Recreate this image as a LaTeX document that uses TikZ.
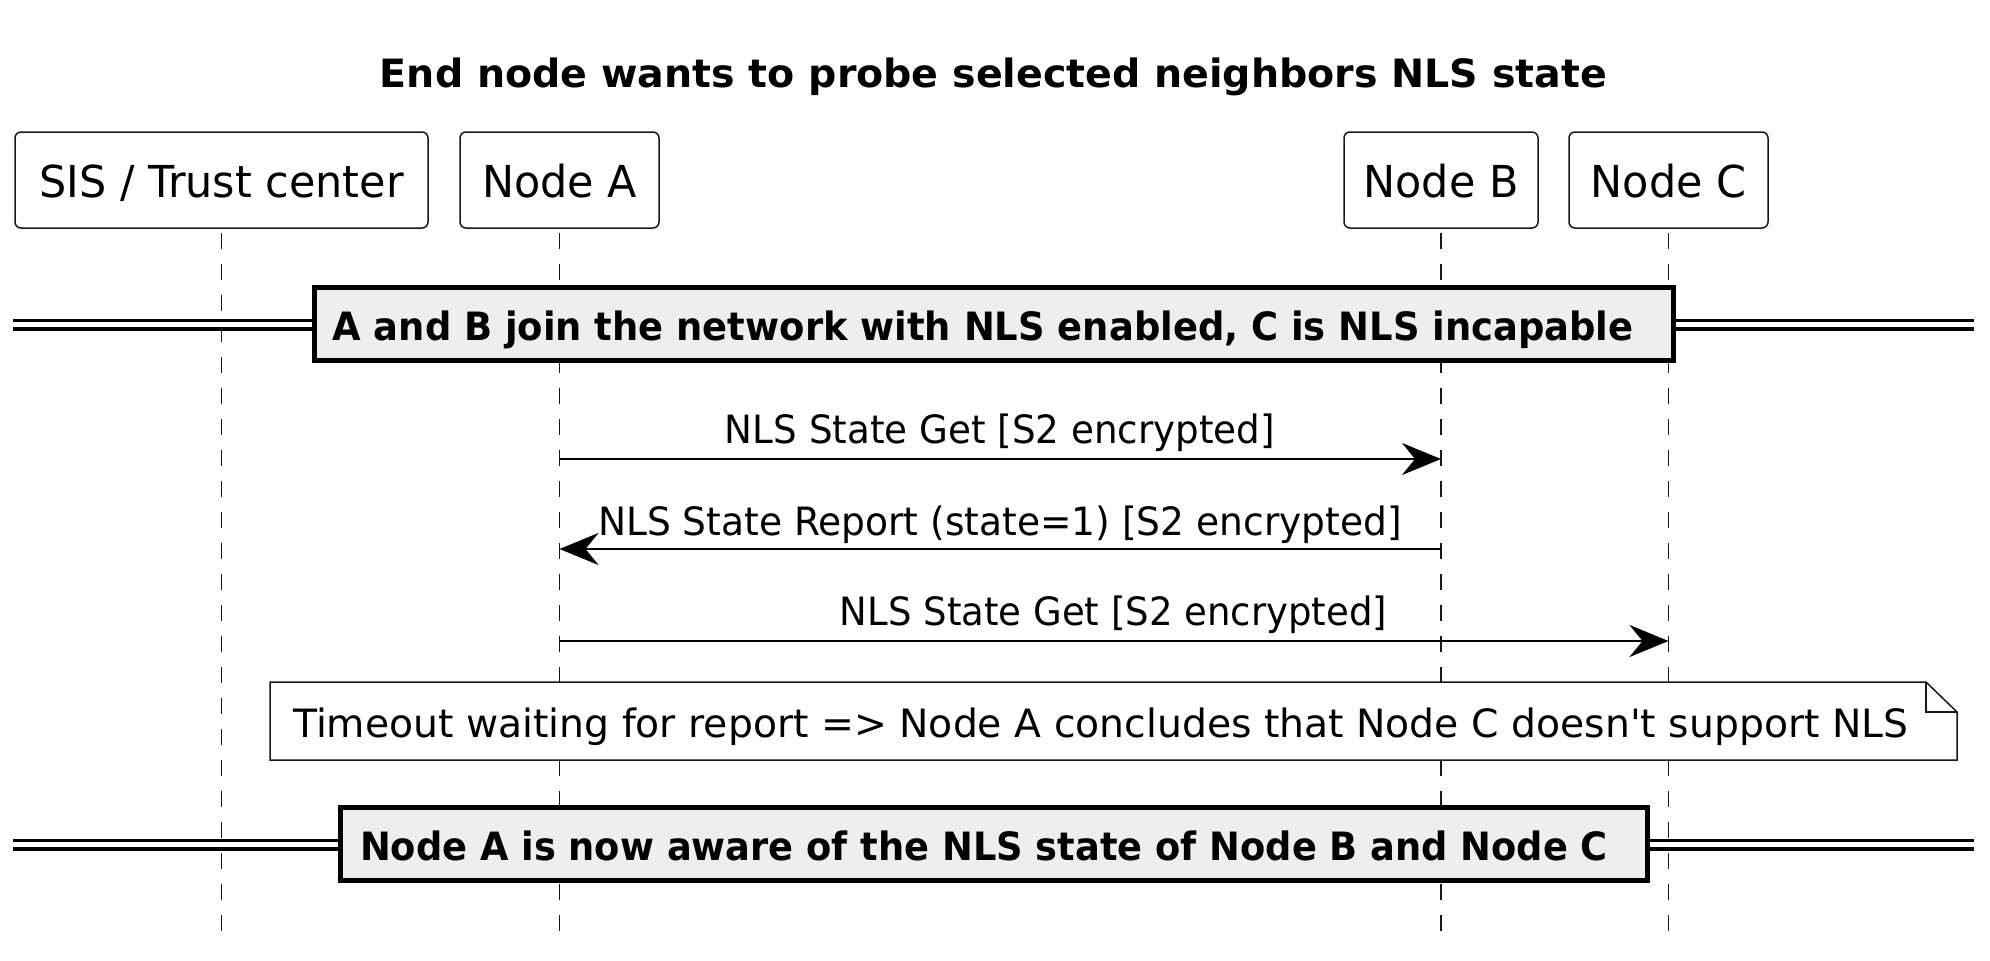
\documentclass[tikz,border=0pt]{standalone}
\usepackage{fontspec}
\usepackage{graphicx}
\setmainfont{DejaVu Sans}[Ligatures=TeXOff]
\newfontfamily\partfont{DejaVu Sans}[Ligatures=TeXOff,FakeStretch=0.975]
\usetikzlibrary{arrows.meta}
\definecolor{ink}{HTML}{181818}
\definecolor{divfill}{HTML}{EEEEEE}
% set a line of text to a given width, keeping its height
\newcommand{\fitto}[2]{\resizebox{#1}{\height}{#2}}

\begin{document}
\begin{tikzpicture}[x=1pt,y=-1pt,
  participant/.style={draw=ink, line width=1.5pt, fill=white, rounded corners=6pt,
    minimum height=96pt, inner sep=0pt, text height=34pt, text depth=0pt,
    font=\partfont\fontsize{44}{50}\selectfont},
  lifeline/.style={draw=ink, line width=1.5pt, dash pattern=on 16pt off 15pt},
  msg/.style={draw=black, line width=2.7pt, -{Stealth[length=39pt,width=32pt,inset=13pt]}},
  msglabel/.style={anchor=base, inner sep=0pt, font=\fontsize{39}{44}\selectfont},
  divider/.style={draw=black, line width=5pt, fill=divfill, inner sep=0pt,
    minimum height=73pt, text height=32pt, text depth=0pt,
    font=\bfseries\fontsize{39}{44}\selectfont},
  divline/.style={draw=black, line width=3.5pt, double=white, double distance=5pt},
  notebox/.style={draw=ink, line width=1.5pt, fill=white, line join=miter},
]
\useasboundingbox (0,0) rectangle (1990,961);

% title
\node[anchor=base, inner sep=0pt, font=\bfseries\fontsize{39}{44}\selectfont] (title)
  at (993.5,87) {\fitto{1227pt}{End node wants to probe selected neighbors NLS state}};

% participants
\node[participant, minimum width=413pt] (sis) at (221.5,180) {SIS / Trust center};
\node[participant, minimum width=199pt] (na) at (559.5,180) {Node A};
\node[participant, minimum width=194pt] (nb) at (1441,180) {Node B};
\node[participant, minimum width=199pt] (nc) at (1668.5,180) {Node C};

% lifelines
\coordinate (bottom) at (0,935);
\foreach \p in {sis,na,nb,nc}
  \draw[lifeline] ([yshift=-4pt]\p.south) -- (\p |- bottom);

% divider 1 (text sits left of centre, hence the trailing kern)
\coordinate (d1l) at (13,324.5);
\coordinate (d1r) at (1974,324.5);
\draw[divline] (d1l) -- (d1r);
\node[divider, minimum width=1359pt] (div1) at (994,324)
  {\fitto{1301pt}{A and B join the network with NLS enabled, C is NLS incapable}\kern22pt};

% messages
\coordinate (m1) at (0,459);
\coordinate (m2) at (0,549);
\coordinate (m3) at (0,641);
\draw[msg] (na |- m1) -- (nb |- m1);
\node[msglabel] (l1) at (1000,443) {\fitto{550pt}{NLS State Get [S2 encrypted]}};
\draw[msg] (nb |- m2) -- (na |- m2);
\node[msglabel] (l2) at (1000,535) {\fitto{804pt}{NLS State Report (state=1) [S2 encrypted]}};
\draw[msg] (na |- m3) -- (nc |- m3);
\node[msglabel] (l3) at (1113.5,625) {\fitto{547pt}{NLS State Get [S2 encrypted]}};

% note with folded corner
\filldraw[notebox] (270,682) -- (1926,682) -- (1957,712) -- (1957,760) -- (270,760) -- cycle;
\draw[notebox, fill=none] (1926,682) -- (1926,712) -- (1957,712);
\node[msglabel, anchor=base west] (note) at (293,737)
  {\fitto{1615pt}{Timeout waiting for report => Node A concludes that Node C doesn't support NLS}};

% divider 2
\coordinate (d2l) at (13,844.5);
\coordinate (d2r) at (1974,844.5);
\draw[divline] (d2l) -- (d2r);
\node[divider, minimum width=1307pt] (div2) at (994,844)
  {\fitto{1248pt}{Node A is now aware of the NLS state of Node B and Node C}\kern20pt};
\end{tikzpicture}
\end{document}
